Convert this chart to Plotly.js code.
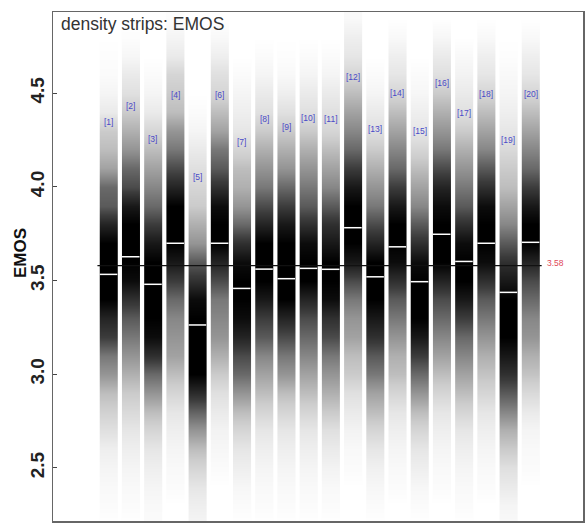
<!DOCTYPE html>
<html>
<head>
<meta charset="utf-8">
<script src="https://cdn.plot.ly/plotly-3.0.1.min.js"></script>
<style>html,body{margin:0;padding:0;background:#fff;}#chart{width:586px;height:523px;}</style>
</head>
<body>
<div id="chart"></div>
<script>
// Levels (EMOS values) at which strip darkness was read
const levels = [2.2,2.3,2.4,2.5,2.6,2.7,2.8,2.9,3.0,3.1,3.2,3.3,3.4,3.5,3.6,3.7,3.8,3.9,4.0,4.1,4.2,4.3,4.4,4.5,4.6,4.7,4.8,4.9];

// Darkness (0 = white, 1 = black) of each strip at the levels above (bottom -> top)
const strip1  = [0,0.02,0.03,0.05,0.08,0.15,0.22,0.3,0.45,0.55,0.75,0.85,1,1,1,1,0.85,0.65,0.6,0.4,0.3,0.25,0.1,0.05,0.02,0.01,0,0];
const strip2  = [0,0.02,0.03,0.05,0.08,0.12,0.18,0.25,0.35,0.45,0.55,0.65,0.8,0.95,1,1,1,0.9,0.7,0.6,0.45,0.35,0.25,0.15,0.1,0.04,0.01,0];
const strip3  = [0.02,0.03,0.05,0.08,0.12,0.2,0.3,0.45,0.6,0.8,0.95,1,1,1,1,0.9,0.75,0.6,0.5,0.4,0.3,0.2,0.1,0.05,0.02,0,0,0];
const strip4  = [0,0,0.02,0.03,0.05,0.08,0.12,0.2,0.3,0.4,0.45,0.5,0.6,0.75,0.9,1,1,1,0.85,0.7,0.55,0.45,0.3,0.25,0.2,0.1,0.05,0.01];
const strip5  = [0.05,0.08,0.12,0.2,0.3,0.45,0.62,0.82,1,1,1,1,0.95,0.8,0.65,0.45,0.35,0.25,0.2,0.15,0.1,0.05,0.02,0,0,0,0,0];
const strip6  = [0,0,0,0.02,0.04,0.06,0.1,0.15,0.25,0.35,0.45,0.5,0.55,0.7,0.85,1,1,0.95,0.8,0.65,0.55,0.4,0.3,0.2,0.15,0.08,0.03,0];
const strip7  = [0,0.02,0.04,0.08,0.12,0.2,0.3,0.45,0.6,0.7,0.85,0.95,1,1,0.95,0.8,0.6,0.45,0.35,0.3,0.2,0.12,0.08,0.05,0.02,0,0,0];
const strip8  = [0,0.02,0.03,0.05,0.08,0.12,0.2,0.3,0.4,0.5,0.65,0.75,0.9,1,1,1,0.85,0.7,0.55,0.45,0.35,0.25,0.15,0.1,0.05,0.02,0,0];
const strip9  = [0,0.02,0.03,0.05,0.08,0.12,0.2,0.3,0.45,0.55,0.7,0.85,1,1,1,1,0.9,0.75,0.6,0.45,0.35,0.25,0.15,0.08,0.03,0.01,0,0];
const strip10 = [0,0.02,0.03,0.05,0.08,0.12,0.2,0.3,0.4,0.5,0.6,0.7,0.85,1,1,0.95,0.8,0.65,0.55,0.45,0.35,0.25,0.15,0.1,0.05,0.02,0,0];
const strip11 = [0,0.02,0.03,0.06,0.1,0.15,0.25,0.35,0.45,0.55,0.7,0.8,0.95,1,1,0.9,0.8,0.65,0.5,0.4,0.3,0.2,0.15,0.1,0.05,0.02,0,0];
const strip12 = [0,0,0,0.02,0.03,0.06,0.1,0.15,0.25,0.3,0.4,0.45,0.55,0.7,0.9,1,1,1,0.9,0.75,0.6,0.5,0.4,0.3,0.2,0.12,0.08,0.03];
const strip13 = [0,0.02,0.04,0.07,0.12,0.2,0.3,0.4,0.55,0.65,0.8,0.9,1,1,1,0.85,0.7,0.55,0.45,0.35,0.25,0.15,0.1,0.05,0.02,0,0,0];
const strip14 = [0,0,0.02,0.03,0.05,0.08,0.12,0.2,0.3,0.35,0.45,0.55,0.65,0.8,0.95,1,1,0.9,0.75,0.6,0.5,0.4,0.3,0.2,0.12,0.08,0.03,0];
const strip15 = [0,0.02,0.04,0.08,0.12,0.2,0.3,0.45,0.6,0.75,0.9,1,1,1,0.95,0.8,0.65,0.5,0.4,0.3,0.2,0.12,0.08,0.04,0.02,0,0,0];
const strip16 = [0,0,0.02,0.03,0.05,0.08,0.12,0.2,0.3,0.4,0.5,0.6,0.7,0.85,1,1,1,0.95,0.85,0.7,0.55,0.45,0.35,0.25,0.15,0.1,0.04,0];
const strip17 = [0,0.02,0.03,0.05,0.08,0.12,0.2,0.3,0.4,0.5,0.6,0.75,0.9,1,1,0.95,0.8,0.65,0.55,0.45,0.35,0.25,0.15,0.1,0.06,0.03,0,0];
const strip18 = [0,0,0.02,0.03,0.05,0.08,0.12,0.2,0.28,0.35,0.45,0.55,0.65,0.8,0.95,1,1,0.95,0.8,0.65,0.5,0.4,0.3,0.2,0.12,0.08,0.03,0];
const strip19 = [0.03,0.05,0.1,0.15,0.25,0.35,0.5,0.65,0.8,0.9,1,1,1,0.9,0.8,0.65,0.5,0.4,0.3,0.25,0.18,0.12,0.08,0.05,0.03,0.01,0,0];
const strip20 = [0,0,0,0.02,0.03,0.05,0.1,0.18,0.28,0.35,0.45,0.5,0.6,0.7,0.85,1,1,0.9,0.75,0.6,0.5,0.4,0.3,0.2,0.12,0.08,0.03,0];
const strips = [strip1,strip2,strip3,strip4,strip5,strip6,strip7,strip8,strip9,strip10,
                strip11,strip12,strip13,strip14,strip15,strip16,strip17,strip18,strip19,strip20];

// Median of each strip (white line)
const medians = [3.533,3.627,3.480,3.699,3.263,3.699,3.458,3.561,3.510,3.565,
                 3.560,3.782,3.520,3.680,3.494,3.747,3.602,3.699,3.437,3.704];
// Height at which each strip label sits
const labelY = [4.346,4.431,4.255,4.490,4.052,4.490,4.239,4.362,4.319,4.367,
                4.362,4.586,4.308,4.501,4.298,4.554,4.394,4.495,4.250,4.495];
const labels = ["[1]","[2]","[3]","[4]","[5]","[6]","[7]","[8]","[9]","[10]",
                "[11]","[12]","[13]","[14]","[15]","[16]","[17]","[18]","[19]","[20]"];
const refValue = 3.58;
const refLabel = "3.58";
const yTicks = [2.5,3.0,3.5,4.0,4.5];
const yTickText = ["2.5","3.0","3.5","4.0","4.5"];

const FONT = 'Liberation Sans, Arial, sans-serif';
const HW = 0.395;
const traces = [];
strips.forEach((s, k) => {
  const i = k + 1;
  traces.push({
    type: 'heatmap',
    x: [i - HW, i, i + HW],
    y: levels,
    z: s.map(v => [v, v]),
    zmin: 0, zmax: 1,
    zsmooth: 'best',
    colorscale: [[0, '#ffffff'], [0.25, '#cbcbcb'], [0.5, '#878787'], [0.75, '#3c3c3c'], [1, '#000000']],
    showscale: false,
    hoverinfo: 'skip'
  });
});

// median white lines
const mx = [], my = [];
medians.forEach((m, k) => {
  const i = k + 1;
  mx.push(i - HW, i + HW, null);
  my.push(m, m, null);
});
traces.push({type: 'scatter', mode: 'lines', x: mx, y: my,
  line: {color: '#ffffff', width: 1.5}, hoverinfo: 'skip', showlegend: false});

// reference horizontal line
traces.push({type: 'scatter', mode: 'lines', x: [0.5, 20.5], y: [refValue, refValue],
  line: {color: '#111111', width: 1.3}, hoverinfo: 'skip', showlegend: false});

const annotations = labels.map((t, k) => ({
  x: k + 1, y: labelY[k], xref: 'x', yref: 'y', text: t, showarrow: false,
  font: {family: FONT, size: 8.5, color: '#4a4ac8'}
}));
annotations.push({x: 20.65, y: refValue, xref: 'x', yref: 'y', text: refLabel, showarrow: false,
  xanchor: 'left', yanchor: 'bottom', yshift: -4,
  font: {family: FONT, size: 8.5, color: '#e04858'}});
annotations.push({x: 0.012, y: 1.0, xref: 'paper', yref: 'paper', text: 'density strips: EMOS',
  showarrow: false, xanchor: 'left', yanchor: 'top', yshift: 0,
  font: {family: FONT, size: 17.5, color: '#333333'}});
// y-axis title
annotations.push({x: 0, y: 3.647, xref: 'paper', yref: 'y', text: 'EMOS', showarrow: false,
  textangle: -90, xanchor: 'center', yanchor: 'middle', xshift: -33,
  font: {family: FONT, size: 17, color: '#111', weight: 'bold'}});

const layout = {
  width: 586, height: 523,
  margin: {l: 53, r: 3, t: 12, b: 2},
  paper_bgcolor: '#ffffff', plot_bgcolor: '#ffffff',
  showlegend: false,
  xaxis: {range: [-1.5, 22.36], showgrid: false, zeroline: false, showticklabels: false,
    ticks: '', showline: true, mirror: true, linecolor: '#666666', linewidth: 1.5, fixedrange: true},
  yaxis: {range: [2.217, 4.933], showgrid: false, zeroline: false,
    tickvals: yTicks, ticktext: yTickText, tickangle: -90,
    ticks: 'inside', ticklen: 4, tickcolor: '#444', tickwidth: 1,
    tickfont: {family: FONT, size: 19, color: '#222', weight: 'bold'},
    showline: true, mirror: true, linecolor: '#666666', linewidth: 1.5,
    automargin: false},
  annotations: annotations
};

Plotly.newPlot('chart', traces, layout, {displayModeBar: false, staticPlot: true});
</script>
</body>
</html>
